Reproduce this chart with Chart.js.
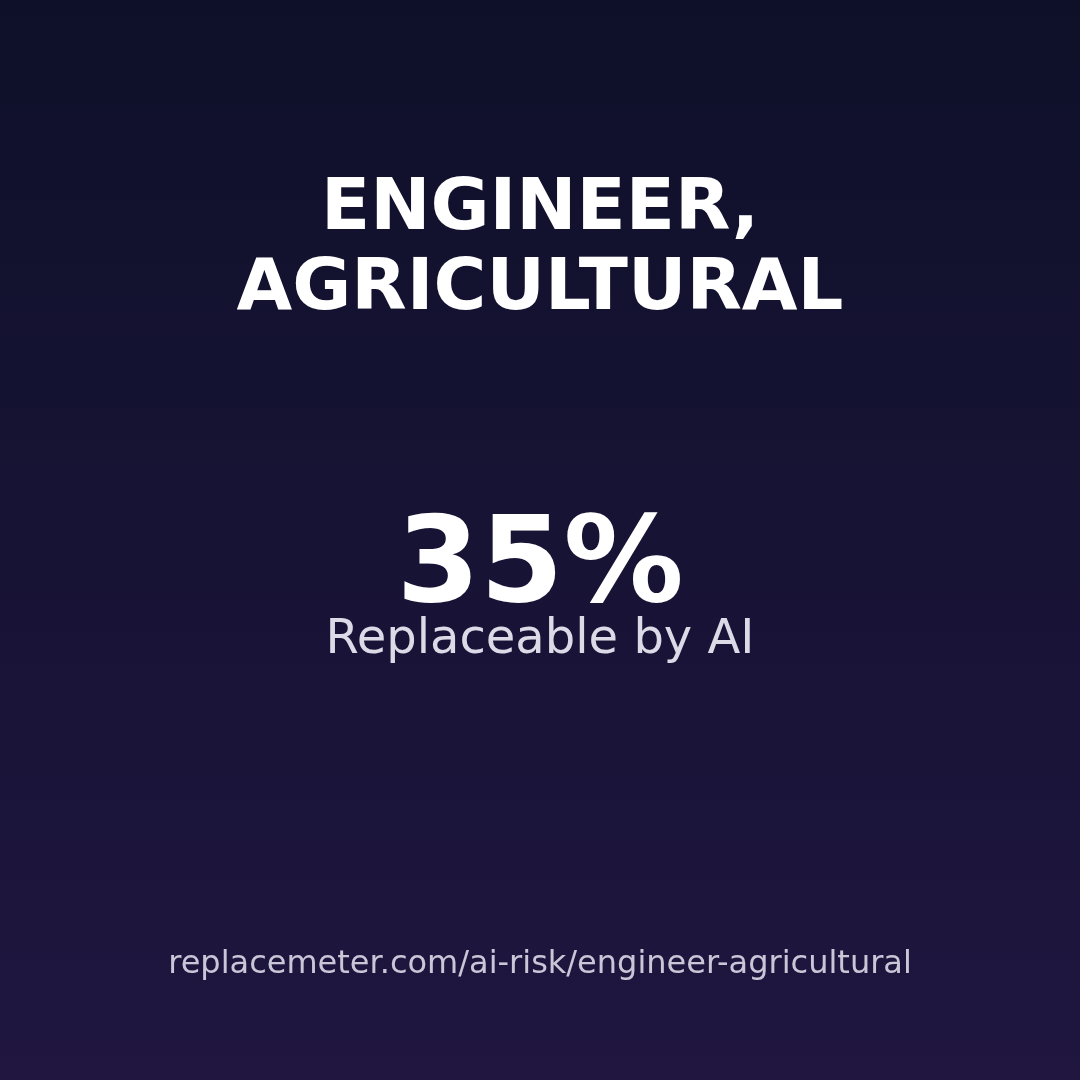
<!DOCTYPE html>
<html>
<head>
<meta charset="utf-8">
<title>Engineer, Agricultural</title>
<script src="https://cdn.jsdelivr.net/npm/chart.js@4/dist/chart.umd.min.js"></script>
<style>
  html, body { margin: 0; padding: 0; background: #0e1029; }
  #wrap { width: 1080px; height: 1080px; }
</style>
</head>
<body>
<div id="wrap"><canvas id="card" width="1080" height="1080"></canvas></div>
<script>
'use strict';
// data
var titleLines = ['ENGINEER,', 'AGRICULTURAL'];
var scoreValues = [35];
var scoreLabel = 'Replaceable by AI';
var footerText = 'replacemeter.com/ai-risk/engineer-agricultural';

var FONT = '"DejaVu Sans", sans-serif';

// background gradient + all the text
var cardPlugin = {
  id: 'card',
  beforeDraw: function(chart) {
    var ctx = chart.ctx;
    var g = ctx.createLinearGradient(0, 0, 0, chart.height);
    g.addColorStop(0, '#0e1029');
    g.addColorStop(1, '#201640');
    ctx.save();
    ctx.fillStyle = g;
    ctx.fillRect(0, 0, chart.width, chart.height);
    ctx.restore();
  },
  afterDraw: function(chart) {
    var ctx = chart.ctx;
    var cx = chart.width / 2;
    ctx.save();
    ctx.textAlign = 'center';
    ctx.textBaseline = 'alphabetic';

    ctx.fillStyle = '#ffffff';
    ctx.font = 'bold 72px ' + FONT;
    for (var i = 0; i < titleLines.length; i++) {
      ctx.fillText(titleLines[i], cx, 229 + i * 80);
    }

    var val = chart.data.datasets[0].data[0];
    ctx.font = 'bold 120px ' + FONT;
    ctx.fillText(val + '%', cx, 601);

    ctx.fillStyle = '#dcdae6';
    ctx.font = '48px ' + FONT;
    ctx.fillText(scoreLabel, cx, 653);

    ctx.fillStyle = '#c9c6d8';
    ctx.font = '32px ' + FONT;
    ctx.fillText(footerText, cx, 973);
    ctx.restore();
  }
};

var chart = new Chart(document.getElementById('card').getContext('2d'), {
  type: 'bar',
  data: {
    labels: ['score'],
    datasets: [{
      data: scoreValues,
      backgroundColor: 'rgba(0,0,0,0)',
      borderWidth: 0
    }]
  },
  options: {
    responsive: false,
    animation: false,
    events: [],
    plugins: { legend: { display: false }, tooltip: { enabled: false } },
    scales: { x: { display: false }, y: { display: false, min: 0, max: 100 } }
  },
  plugins: [cardPlugin]
});
</script>
</body>
</html>
